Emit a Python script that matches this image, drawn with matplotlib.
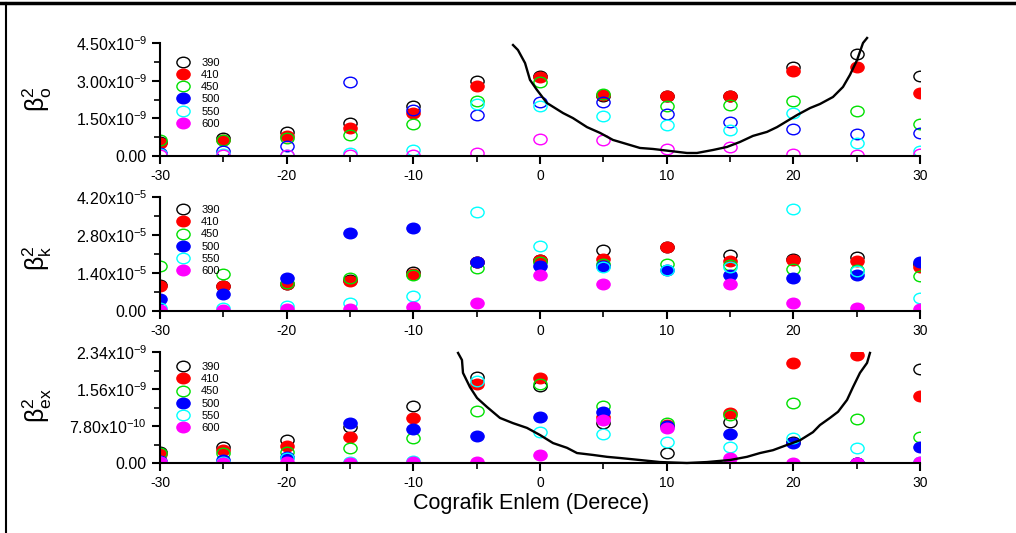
import numpy as np
import matplotlib
matplotlib.use("Agg")
import matplotlib.pyplot as plt
from matplotlib.path import Path
from matplotlib.lines import Line2D

plt.rcParams['font.family'] = ['Liberation Sans', 'DejaVu Sans']
plt.rcParams['mathtext.fontset'] = 'custom'
plt.rcParams['mathtext.rm'] = 'Liberation Sans'
plt.rcParams['mathtext.it'] = 'Liberation Sans:italic'
plt.rcParams['mathtext.default'] = 'regular'
plt.rcParams['axes.unicode_minus'] = False

# latitude (degrees)
lat = [-30, -25, -20, -15, -10, -5, 0, 5, 10, 15, 20, 25, 30]
nan = np.nan

# beta_o^2 (x1e-9)
bo_390 = [0.55, 0.72, 0.95, 1.33, 1.99, 2.99, 3.20, 2.40, 2.39, 2.39, 3.54, 4.06, 3.19]
bo_410 = [0.50, 0.65, 0.80, 1.12, 1.71, 2.79, 3.15, 2.42, 2.39, 2.39, 3.38, 3.54, 2.51]
bo_450 = [0.65, 0.64, 0.70, 0.85, 1.27, 2.19, 2.95, 2.47, 1.99, 2.03, 2.19, 1.79, 1.27]
bo_500 = [0.12, 0.18, 0.40, 2.95, 1.83, 1.63, 2.15, 2.15, 1.67, 1.35, 1.08, 0.88, 0.92]
bo_550 = [0.08, 0.08, 0.05, 0.10, 0.24, 2.07, 1.99, 1.59, 1.23, 1.04, 1.71, 0.52, 0.20]
bo_600 = [0.02, 0.04, 0.02, 0.04, 0.04, 0.12, 0.68, 0.64, 0.28, 0.36, 0.08, 0.04, 0.08]

# beta_k^2 (x1e-5)
bk_390 = [0.95, 0.92, 1.00, 1.15, 1.44, 1.80, 1.88, 2.25, 2.36, 2.06, 1.92, 1.99, 1.75]
bk_410 = [0.92, 0.92, 1.00, 1.10, 1.38, 1.82, 1.88, 1.92, 2.36, 1.84, 1.88, 1.84, 1.62]
bk_450 = [1.65, 1.36, 1.05, 1.22, 1.33, 1.58, 1.80, 1.73, 1.73, 1.69, 1.55, 1.50, 1.29]
bk_500 = [0.45, 0.63, 1.22, 2.87, 3.06, 1.80, 1.66, 1.65, 1.50, 1.33, 1.22, 1.33, 1.80]
bk_550 = [0.10, 0.11, 0.18, 0.29, 0.55, 3.65, 2.39, 1.62, 1.51, 1.62, 3.76, 1.47, 0.48]
bk_600 = [0.04, 0.04, 0.07, 0.07, 0.15, 0.29, 1.33, 0.99, nan, 0.99, 0.29, 0.11, 0.07]

# beta_ex^2 (x1e-9)
bx_390 = [0.23, 0.34, 0.48, 0.76, 1.20, 1.81, 1.62, 0.84, 0.21, 0.86, 0.45, 0.00, 1.98]
bx_410 = [0.20, 0.27, 0.36, 0.55, 0.95, 1.67, 1.79, 0.97, 0.80, 1.05, 2.11, 2.28, 1.41]
bx_450 = [0.21, 0.21, 0.23, 0.32, 0.53, 1.10, 1.67, 1.20, 0.84, 1.01, 1.26, 0.93, 0.55]
bx_500 = [0.05, 0.06, 0.13, 0.84, 0.72, 0.57, 0.97, 1.08, 0.78, 0.61, 0.42, 0.01, 0.34]
bx_550 = [0.03, 0.03, 0.10, 0.02, 0.04, 1.73, 0.65, 0.61, 0.44, 0.34, 0.53, 0.32, 0.02]
bx_600 = [0.02, 0.00, 0.02, 0.00, 0.02, 0.02, 0.17, 0.91, 0.74, 0.11, 0.00, 0.00, 0.02]

# black curves (top and bottom panels)
co_x = [-2.13, -1.74, -1.18, -0.79, -0.24, 0.55, 1.82, 2.60, 3.71, 4.74, 5.76, 7.89, 8.92,
        10.26, 11.60, 12.39, 13.66, 14.76, 15.79, 16.81, 17.92, 18.71, 19.50, 20.29, 21.32,
        22.10, 23.13, 23.92, 24.47, 25.03, 25.50, 25.82]
co_y = [4.42, 4.22, 3.70, 3.03, 2.63, 2.11, 1.71, 1.51, 1.15, 0.92, 0.64, 0.32, 0.28,
        0.20, 0.12, 0.12, 0.24, 0.36, 0.56, 0.80, 0.96, 1.15, 1.39, 1.63, 1.91,
        2.07, 2.35, 2.75, 3.23, 3.82, 4.50, 4.70]
cx_x = [-6.47, -6.16, -6.08, -5.53, -4.97, -4.18, -3.16, -2.13, -1.03, 0.00, 1.03, 2.13, 2.92,
        4.18, 5.29, 6.32, 7.89, 9.47, 11.6, 13.18, 15.0, 16.34, 17.37, 18.39, 19.50, 20.53,
        21.55, 22.10, 22.89, 23.53, 24.24, 24.71, 25.26, 25.82, 26.05]
cx_y = [2.32, 2.17, 1.90, 1.60, 1.37, 1.18, 0.95, 0.84, 0.74, 0.59, 0.42, 0.32, 0.21,
        0.17, 0.13, 0.105, 0.063, 0.02, 0.0, 0.02, 0.063, 0.13, 0.21, 0.27, 0.38, 0.48,
        0.65, 0.80, 0.95, 1.08, 1.33, 1.60, 1.90, 2.11, 2.32]

wavelengths = ['390', '410', '450', '500', '550', '600']
colors = ['black', '#ff0000', '#00e000', '#0000ff', '#00ffff', '#ff00ff']
legend_filled = [False, True, False, True, False, True]

# y ticks
yt_o = [0, 1.5, 3.0, 4.5]
yl_o = ['0.00', r'1.50x10$^{-9}$', r'3.00x10$^{-9}$', r'4.50x10$^{-9}$']
yt_k = [0, 1.4, 2.8, 4.2]
yl_k = ['0.00', r'1.40x10$^{-5}$', r'2.80x10$^{-5}$', r'4.20x10$^{-5}$']
yt_x = [0, 0.78, 1.56, 2.34]
yl_x = ['0.00', r'7.80x10$^{-10}$', r'1.56x10$^{-9}$', r'2.34x10$^{-9}$']

# elliptical marker (wider than tall)
circ = Path.unit_circle()
ell = Path(circ.vertices * np.array([1.25, 1.0]), circ.codes)
MS = 9.5

fig = plt.figure(figsize=(10.16, 5.33), dpi=100)
L, W = 160 / 1016, 760 / 1016
ax1 = fig.add_axes([L, 1 - 156 / 533, W, 113 / 533])
ax2 = fig.add_axes([L, 1 - 311 / 533, W, 114 / 533])
ax3 = fig.add_axes([L, 1 - 463 / 533, W, 111 / 533])

panels = [
    (ax1, [bo_390, bo_410, bo_450, bo_500, bo_550, bo_600],
     [False, True, False, False, False, False], yt_o, yl_o,
     r'$\mathregular{β^2_o}$', (co_x, co_y), 0.87, 0.50),
    (ax2, [bk_390, bk_410, bk_450, bk_500, bk_550, bk_600],
     legend_filled, yt_k, yl_k, r'$\mathregular{β^2_k}$', None, 0.93, 0.46),
    (ax3, [bx_390, bx_410, bx_450, bx_500, bx_550, bx_600],
     legend_filled, yt_x, yl_x, r'$\mathregular{β^2_{ex}}$', (cx_x, cx_y), 0.91, 0.52),
]

for ax, series, filled, yt, yl, ylab, curve, leg_y, lab_y in panels:
    for vals, c, f in zip(series, colors, filled):
        ax.plot(lat, vals, linestyle='none', marker=ell, ms=MS,
                mfc=c if f else 'none', mec=c, mew=1.0)
    if curve is not None:
        ax.plot(curve[0], curve[1], color='black', lw=1.7, clip_on=False)
    ax.set_xlim(-30, 30)
    ax.set_ylim(0, yt[-1])
    ax.set_xticks(range(-30, 31, 10))
    ax.set_xticks(range(-25, 30, 10), minor=True)
    ax.set_xticklabels([str(v) for v in range(-30, 31, 10)])
    ax.set_yticks(yt)
    ax.set_yticks([(a + b) / 2 for a, b in zip(yt[:-1], yt[1:])], minor=True)
    ax.set_yticklabels(yl)
    for s in ['top', 'right']:
        ax.spines[s].set_visible(False)
    for s in ['left', 'bottom']:
        ax.spines[s].set_linewidth(1.5)
    ax.tick_params(which='major', direction='out', length=6, width=1.5, labelsize=11.5)
    ax.tick_params(which='minor', direction='out', length=4, width=1.2)
    ax.tick_params(axis='x', labelsize=10)
    ax.set_ylabel(ylab, fontsize=18)
    ax.yaxis.set_label_coords(-0.14, lab_y)
    handles = [Line2D([], [], linestyle='none', marker=ell, ms=MS,
                      mfc=c if f else 'none', mec=c, mew=1.0)
               for c, f in zip(colors, legend_filled)]
    ax.legend(handles, wavelengths, loc='upper left', bbox_to_anchor=(0.022, leg_y),
              frameon=False, fontsize=8, handlelength=1.2, handletextpad=1.0,
              labelspacing=0.2, borderpad=0, borderaxespad=0)

ax3.set_xlabel('Cografik Enlem (Derece)', fontsize=15.5, labelpad=2)
ax3.xaxis.set_label_coords(0.488, -0.27)

# outer frame lines
fig.add_artist(Line2D([0, 1], [1 - 3 / 533, 1 - 3 / 533], color='black', lw=2.5))
fig.add_artist(Line2D([6 / 1016, 6 / 1016], [0, 1 - 3 / 533], color='black', lw=1.5))

fig.savefig('out.png', dpi=100, facecolor='white')
